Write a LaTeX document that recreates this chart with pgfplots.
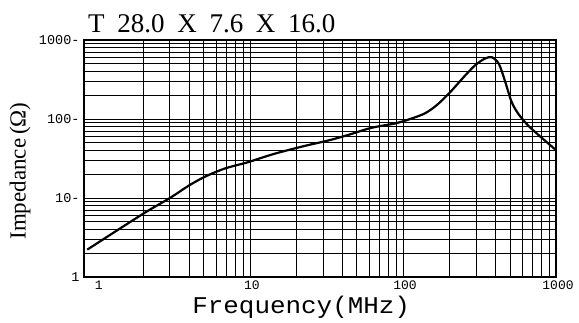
\documentclass[border=0pt]{standalone}
\usepackage{pgfplots}
\pgfplotsset{compat=1.18}
\usepackage{fontspec}
\setmainfont{Liberation Serif}
\newfontfamily\monof{Liberation Mono}
\newfontfamily\monow[FakeStretch=1.08]{Liberation Mono}

\pgfplotstableread{
f z
0.865 2.22
2.0 6.3
3.0 10.0
4.0 14.4
5.08 18.6
6.8 23.5
9.08 27.4
10 28.9
14.6 36.5
23.2 46
32.8 53.7
43.8 62.8
62 77.2
89 87.8
103 95
138 117
167 151
204 220
254 353
298 484
345 585
382 604
423 500
462 311
512 166
566 117
655 83.4
792 59.6
1000 40.4
}\imp

\begin{document}
\begin{tikzpicture}
\begin{axis}[xmode=log, ymode=log, scale only axis,
  width=472pt, height=237pt,
  xmin=0.824, xmax=1000, ymin=1, ymax=1000,
  xtick={1,10,100,1000}, xticklabels={1,10,100,1000},
  ytick={1,10,100,1000}, yticklabels={1,10-,100-,1000-},
  minor xtick={2,3,4,5,6,7,8,9,10,20,30,40,50,60,70,80,90,100,200,300,400,500,600,700,800,900},
  minor ytick={2,3,4,5,6,7,8,9,20,30,40,50,60,70,80,90,200,300,400,500,600,700,800,900},
  xminorgrids, yminorgrids, ymajorgrids,
  minor grid style={black, line width=0.8pt},
  major grid style={black, line width=0.8pt},
  major tick length=0pt, minor tick length=0pt,
  axis line style={black, line width=1.2pt},
  xticklabel style={font=\monof\fontsize{13}{13}\selectfont, inner sep=1pt, yshift=-3pt, xshift=2pt},
  yticklabel style={font=\monof\fontsize{13.5}{13.5}\selectfont, xshift=-1pt},
  xlabel={\monow\fontsize{24}{24}\selectfont Frequency(MHz)},
  xlabel style={at={(rel axis cs:0.229,-0.152)}, anchor=base west, inner sep=0pt},
  ylabel={\fontsize{23}{23}\selectfont Impedance\,(Ω)},
  ylabel style={at={(rel axis cs:-0.1356,0.447)}, anchor=center, rotate=0},
  clip=false]
\addplot[black, line width=2.2pt, smooth, tension=0.5] table[x=f, y=z] {\imp};
\node[anchor=base west, font=\fontsize{27}{27}\selectfont, inner sep=0pt]
  at (rel axis cs:0.0085,1.03)
  {T\hspace{0.47em}28.0\hspace{0.47em}X\hspace{0.47em}7.6\hspace{0.47em}X\hspace{0.47em}16.0};
\path (rel axis cs:-0.178,-0.19) rectangle (rel axis cs:1.0487,1.1688);
\end{axis}
\end{tikzpicture}
\end{document}
